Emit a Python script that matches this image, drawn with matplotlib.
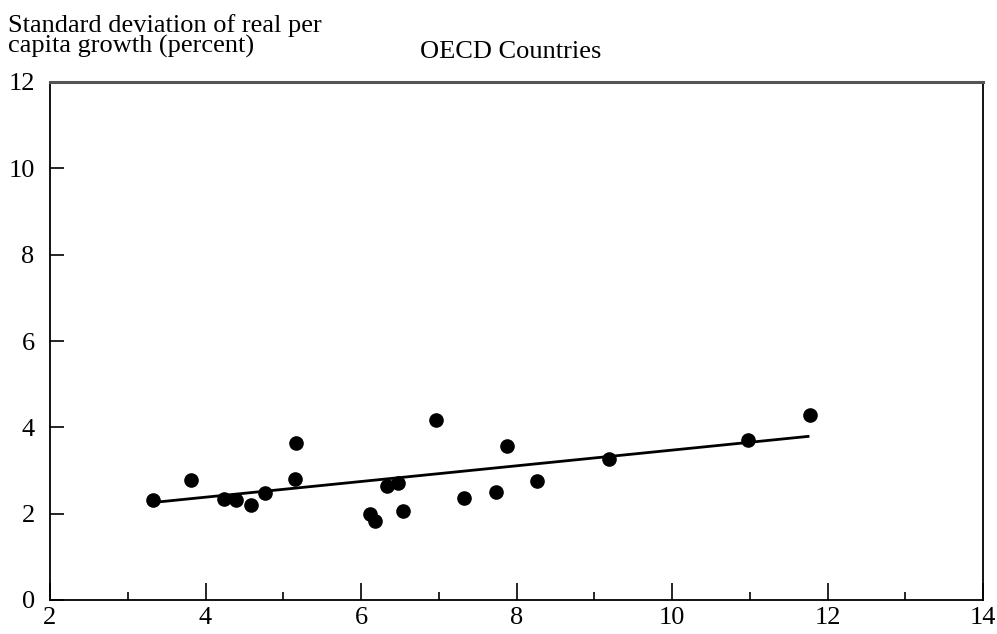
import numpy as np
import matplotlib
matplotlib.use("Agg")
import matplotlib.pyplot as plt

# volatility of policy instrument (x) vs std. dev. of per capita growth (y)
x_vals = [3.32, 3.81, 4.24, 4.39, 4.58, 4.77, 5.15, 5.16, 6.12, 6.18, 6.33, 6.48,
          6.54, 6.97, 7.32, 7.73, 7.88, 8.27, 9.19, 10.98, 11.77]
y_vals = [2.32, 2.77, 2.34, 2.32, 2.20, 2.48, 2.81, 3.63, 2.00, 1.84, 2.63, 2.72,
          2.07, 4.16, 2.36, 2.51, 3.56, 2.75, 3.27, 3.71, 4.29]
fit_x = [3.33, 11.75]
fit_y = [2.26, 3.79]

x_ticks = [2, 4, 6, 8, 10, 12, 14]
x_minor = [3, 5, 7, 9, 11, 13]
y_ticks = [0, 2, 4, 6, 8, 10, 12]
ylabel_lines = ["Standard deviation of real per", "capita growth (percent)"]

plt.rcParams["font.family"] = ["Liberation Serif", "DejaVu Serif"]

fig = plt.figure(figsize=(9.97, 6.34), dpi=100)
ax = fig.add_axes([50 / 997, 34 / 634, 933 / 997, 518 / 634])

ax.plot(fit_x, fit_y, color="black", lw=2.0, zorder=2)
ax.plot(x_vals, y_vals, "o", color="black", ms=9.5, zorder=3)

ax.set_xlim(2, 14)
ax.set_ylim(0, 12)
ax.set_xticks(x_ticks)
ax.set_xticks(x_minor, minor=True)
ax.set_yticks(y_ticks)
ax.tick_params(axis="x", which="major", direction="in", length=12, width=1.2,
               labelsize=19, pad=5)
ax.tick_params(axis="x", which="minor", direction="in", length=6, width=1.2)
ax.tick_params(axis="y", which="major", direction="in", length=10, width=1.2,
               labelsize=19, pad=11)

for side in ["left", "bottom", "right"]:
    ax.spines[side].set_linewidth(1.3)
    ax.spines[side].set_color("black")
ax.spines["top"].set_linewidth(2.2)
ax.spines["top"].set_color("#555555")

# two-line y label above the axis, baselines
for line, base_px in zip(ylabel_lines, [32, 53]):
    fig.text(8 / 997, 1 - base_px / 634, line, ha="left", va="baseline", fontsize=19)
fig.text(511 / 997, 1 - 58 / 634, "OECD Countries", ha="center", va="baseline",
         fontsize=19)

fig.savefig("out.png", dpi=100)
